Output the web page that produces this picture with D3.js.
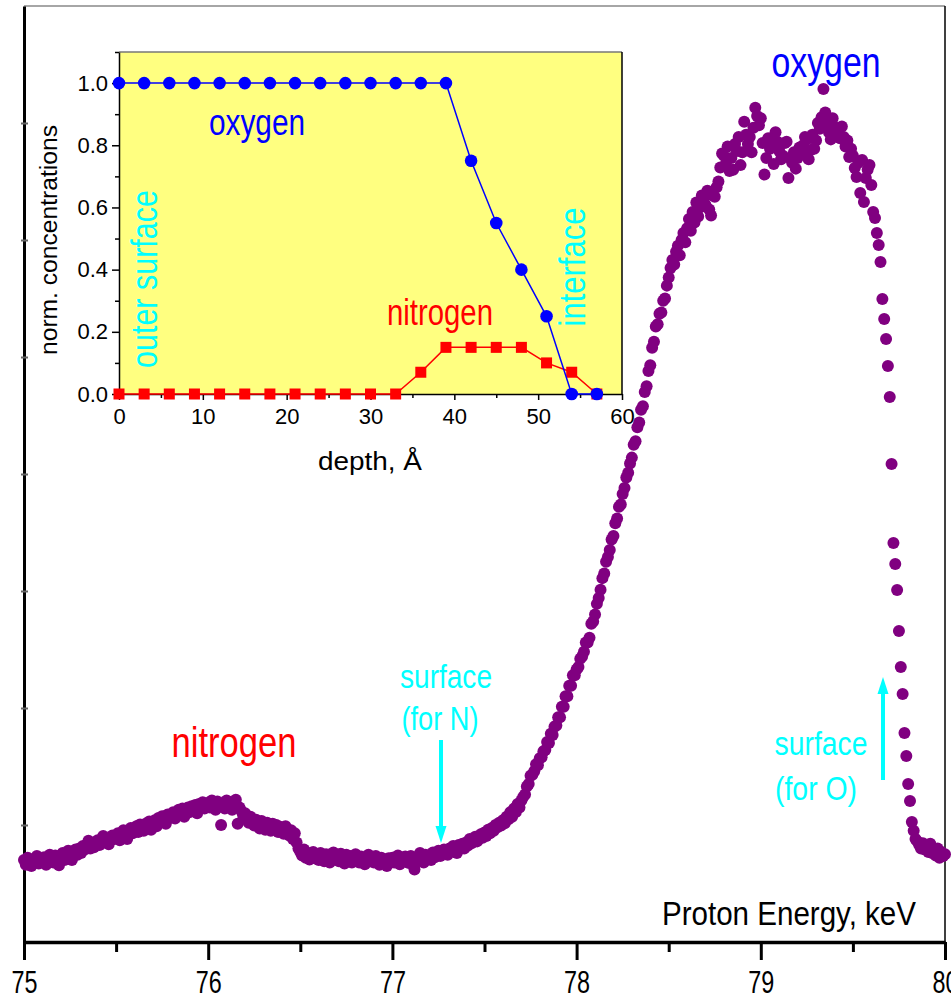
<!DOCTYPE html>
<html>
<head>
<meta charset="utf-8">
<script src="https://cdn.jsdelivr.net/npm/d3@7"></script>
<style>
	body { margin: 0; background: #fff; }
	svg text { font-family: "Liberation Sans", Arial, sans-serif; }
	svg text.narrow { font-family: "Liberation Sans Narrow", "Arial Narrow", "Liberation Sans", Arial, sans-serif; }
</style>
</head>
<body>
<svg id="chart" width="951" height="999"></svg>
<script>

// main spectrum: proton energy (keV) vs yield
var energy = [
	75.00,75.01,75.02,75.03,75.04,75.05,75.06,75.07,75.08,75.09,
	75.10,75.11,75.12,75.13,75.14,75.15,75.16,75.17,75.18,75.19,
	75.20,75.21,75.22,75.23,75.24,75.25,75.26,75.27,75.28,75.29,
	75.30,75.31,75.32,75.33,75.34,75.35,75.36,75.37,75.38,75.39,
	75.40,75.41,75.42,75.43,75.44,75.45,75.46,75.47,75.48,75.49,
	75.50,75.51,75.52,75.53,75.54,75.55,75.56,75.57,75.58,75.59,
	75.60,75.61,75.62,75.63,75.64,75.65,75.66,75.67,75.68,75.69,
	75.70,75.71,75.72,75.73,75.74,75.75,75.76,75.77,75.78,75.79,
	75.80,75.81,75.82,75.83,75.84,75.85,75.86,75.87,75.88,75.89,
	75.90,75.91,75.92,75.93,75.94,75.95,75.96,75.97,75.98,75.99,
	76.00,76.01,76.02,76.03,76.04,76.05,76.06,76.07,76.08,76.09,
	76.10,76.11,76.12,76.13,76.14,76.15,76.16,76.17,76.18,76.19,
	76.20,76.21,76.22,76.23,76.24,76.25,76.26,76.27,76.28,76.29,
	76.30,76.31,76.32,76.33,76.34,76.35,76.36,76.37,76.38,76.39,
	76.40,76.41,76.42,76.43,76.44,76.45,76.46,76.47,76.48,76.49,
	76.50,76.51,76.52,76.53,76.54,76.55,76.56,76.57,76.58,76.59,
	76.60,76.61,76.62,76.63,76.64,76.65,76.66,76.67,76.68,76.69,
	76.70,76.71,76.72,76.73,76.74,76.75,76.76,76.77,76.78,76.79,
	76.80,76.81,76.82,76.83,76.84,76.85,76.86,76.87,76.88,76.89,
	76.90,76.91,76.92,76.93,76.94,76.95,76.96,76.97,76.98,76.99,
	77.00,77.01,77.02,77.03,77.04,77.05,77.06,77.07,77.08,77.09,
	77.10,77.11,77.12,77.13,77.14,77.15,77.16,77.17,77.18,77.19,
	77.20,77.21,77.22,77.23,77.24,77.25,77.26,77.27,77.28,77.29,
	77.30,77.31,77.32,77.33,77.34,77.35,77.36,77.37,77.38,77.39,
	77.40,77.41,77.42,77.43,77.44,77.45,77.46,77.47,77.48,77.49,
	77.50,77.51,77.52,77.53,77.54,77.55,77.56,77.57,77.58,77.59,
	77.60,77.61,77.62,77.63,77.64,77.65,77.66,77.67,77.68,77.69,
	77.70,77.71,77.72,77.73,77.74,77.75,77.76,77.77,77.78,77.79,
	77.80,77.81,77.82,77.83,77.84,77.85,77.86,77.87,77.88,77.89,
	77.90,77.91,77.92,77.93,77.94,77.95,77.96,77.97,77.98,77.99,
	78.00,78.01,78.02,78.03,78.04,78.05,78.06,78.07,78.08,78.09,
	78.10,78.11,78.12,78.13,78.14,78.15,78.16,78.17,78.18,78.19,
	78.20,78.21,78.22,78.23,78.24,78.25,78.26,78.27,78.28,78.29,
	78.30,78.31,78.32,78.33,78.34,78.35,78.36,78.37,78.38,78.39,
	78.40,78.41,78.42,78.43,78.44,78.45,78.46,78.47,78.48,78.49,
	78.50,78.51,78.52,78.53,78.54,78.55,78.56,78.57,78.58,78.59,
	78.60,78.61,78.62,78.63,78.64,78.65,78.66,78.67,78.68,78.69,
	78.70,78.71,78.72,78.73,78.74,78.75,78.76,78.77,78.78,78.79,
	78.80,78.81,78.82,78.83,78.84,78.85,78.86,78.87,78.88,78.89,
	78.90,78.91,78.92,78.93,78.94,78.95,78.96,78.97,78.98,78.99,
	79.00,79.01,79.02,79.03,79.04,79.05,79.06,79.07,79.08,79.09,
	79.10,79.11,79.12,79.13,79.14,79.15,79.16,79.17,79.18,79.19,
	79.20,79.21,79.22,79.23,79.24,79.25,79.26,79.27,79.28,79.29,
	79.30,79.31,79.32,79.33,79.34,79.35,79.36,79.37,79.38,79.39,
	79.40,79.41,79.42,79.43,79.44,79.45,79.46,79.47,79.48,79.49,
	79.50,79.51,79.52,79.53,79.54,79.55,79.56,79.57,79.58,79.59,
	79.60,79.61,79.62,79.63,79.64,79.65,79.66,79.67,79.68,79.69,
	79.70,79.71,79.72,79.73,79.74,79.75,79.76,79.77,79.78,79.79,
	79.80,79.81,79.82,79.83,79.84,79.85,79.86,79.87,79.88,79.89,
	79.90,79.91,79.92,79.93,79.94,79.95,79.96,79.97,79.98,79.99,
	80.00
]

var counts = [
	700,660,720,690,650,705,680,735,670,700,
	690,725,660,710,745,700,680,740,715,655,
	730,760,700,745,780,735,700,770,790,745,
	800,760,820,790,830,865,800,840,810,855,
	870,830,860,905,850,880,835,870,910,880,
	895,930,870,900,955,920,880,945,975,930,
	960,990,940,1005,970,950,1010,985,1030,960,
	1000,1040,990,1060,1025,1075,1040,1010,1090,1060,
	1080,1110,1055,1100,1130,1090,1140,1070,1120,1150,
	1110,1160,1130,1170,1100,1180,1150,1195,1140,1170,
	1190,1150,1210,1170,1130,1200,1165,1000,1185,1140,
	1210,1160,1195,1130,1170,1215,1010,1150,1120,1080,
	1100,1060,1020,1070,1030,995,1045,1010,970,1035,
	1000,960,1020,985,950,1010,970,1000,940,985,
	960,925,990,945,910,955,880,930,850,800,
	770,740,790,720,760,705,745,770,715,740,
	700,760,725,690,750,715,680,740,765,705,
	730,690,755,720,670,745,710,735,680,720,
	750,705,680,730,700,665,725,745,690,715,
	680,735,700,660,720,690,705,650,715,690,
	720,680,700,740,665,710,690,730,700,675,
	735,700,620,725,690,760,715,680,745,710,
	740,700,765,725,750,780,735,760,790,770,
	745,800,775,820,790,760,830,810,840,800,
	850,825,880,845,870,900,860,885,920,890,
	935,905,960,930,975,950,1000,980,1020,995,
	1040,1015,1070,1050,1110,1070,1140,1110,1180,1150,
	1210,1240,1260,1330,1350,1420,1430,1460,1520,1510,
	1570,1580,1630,1640,1710,1700,1780,1770,1840,1850,
	1920,1920,2010,2010,2100,2100,2190,2190,2280,2280,
	2330,2350,2420,2440,2480,2560,2560,2600,2720,2740,
	2800,2890,2940,3010,3110,3150,3250,3290,3350,3440,
	3470,3580,3620,3720,3740,3830,3880,3970,4010,4090,
	4140,4250,4280,4400,4440,4550,4580,4700,4750,4880,
	4930,5080,5130,5260,5280,5370,5380,5480,5500,5610,
	5680,5760,5830,5790,5900,5950,5870,6000,6060,5980,
	6100,6180,6080,6240,6150,6320,6200,6280,6380,6350,
	6300,6420,6260,6210,6380,6370,6450,6500,6620,6740,
	6720,6650,6800,6590,6700,6600,6820,6760,6880,6640,
	6750,7010,6900,6820,6880,6750,6960,7130,7060,6980,
	7040,6830,6560,6700,6870,6780,6800,6650,6920,6840,
	6760,6690,6720,6830,6840,6530,6700,6660,6750,6610,
	6700,6790,6740,6810,6880,6860,6690,6770,6900,6780,
	6850,7000,6950,7050,7290,7090,6990,6920,6860,7040,
	6930,6960,6890,6870,6970,6880,6800,6850,6710,6780,
	6720,6615,6538,6660,6402,6684,6325,6530,6600,6641,
	6470,6239,6188,6060,5957,5812,5496,5325,5154,4923,
	4658,4085,3410,3231,3009,2658,2350,2120,1786,1590,
	1350,1205,1026,950,880,860,830,800,845,790,
	820,770,840,760,790,740,800,720,770,735,
	750
]

var energyTicks = [75, 76, 77, 78, 79, 80]
var energyMinorTicks = [75.5, 76.5, 77.5, 78.5, 79.5]
var countTicks = [1000, 2000, 3000, 4000, 5000, 6000, 7000]

// inset: depth profiles
var depth = [0, 3, 6, 9, 12, 15, 18, 21, 24, 27, 30, 33, 36, 39, 42, 45, 48, 51, 54, 57]
var oxygenConc = [1, 1, 1, 1, 1, 1, 1, 1, 1, 1, 1, 1, 1, 1, 0.75, 0.55, 0.40, 0.25, 0, 0]
var nitrogenConc = [0, 0, 0, 0, 0, 0, 0, 0, 0, 0, 0, 0, 0.07, 0.15, 0.15, 0.15, 0.15, 0.10, 0.07, 0]
var depthTicks = [0, 10, 20, 30, 40, 50, 60]
var depthMinorTicks = [5, 15, 25, 35, 45, 55]
var concTicks = [0, 0.2, 0.4, 0.6, 0.8, 1.0]
var concMinorTicks = [0.1, 0.3, 0.5, 0.7, 0.9, 1.1]

var svg = d3.select("#chart")

function addText(txt, x, y, size, color, len, rotate, narrow) {
	var t = svg.append("text")
		.attr("x", x)
		.attr("y", y)
		.attr("font-size", size + "px")
		.attr("fill", color)
		.attr("text-anchor", "middle")
		.text(txt)
	if (narrow) t.attr("class", "narrow")
	if (len) t.attr("textLength", len).attr("lengthAdjust", "spacingAndGlyphs")
	if (rotate) t.attr("transform", "rotate(-90," + x + "," + y + ")")
	return t
}

// ---- main plot ----
var x = d3.scaleLinear().domain([75, 80]).range([24, 945])
var y = d3.scaleLinear().domain([0, 8000]).range([942, 6])

// frame: grey top, thin right
svg.append("line").attr("x1", 24).attr("x2", 945).attr("y1", 6).attr("y2", 6)
	.attr("stroke", "#888").attr("stroke-width", 1.5)
svg.append("line").attr("x1", 945).attr("x2", 945).attr("y1", 6).attr("y2", 942)
	.attr("stroke", "#000").attr("stroke-width", 1.5)

// left axis (no labels)
svg.append("g")
	.attr("transform", "translate(24,0)")
	.call(d3.axisLeft(y).tickValues(countTicks).tickSize(3).tickSizeOuter(0).tickFormat(""))
	.call(g => g.select(".domain").attr("stroke-width", 3))
	.call(g => g.selectAll(".tick line").attr("stroke", "#666").attr("stroke-width", 2).attr("x2", 4).attr("x1", -3))

// the spectrum
svg.append("g")
	.selectAll("circle")
	.data(counts)
	.join("circle")
	.attr("cx", function(d, i) { return x(energy[i]) })
	.attr("cy", function(d) { return y(d) })
	.attr("r", 6)
	.attr("fill", "#800080")

// bottom axis
svg.append("g")
	.attr("transform", "translate(0,942)")
	.call(d3.axisBottom(x).tickValues(energyMinorTicks).tickSize(10).tickSizeOuter(0).tickFormat(""))
	.call(g => g.select(".domain").remove())
	.call(g => g.selectAll(".tick line").attr("stroke-width", 3))

svg.append("g")
	.attr("transform", "translate(0,942)")
	.call(d3.axisBottom(x).tickValues(energyTicks).tickSize(18).tickSizeOuter(0).tickPadding(10).tickFormat(d3.format("d")))
	.call(g => g.select(".domain").attr("stroke-width", 3.5))
	.call(g => g.selectAll(".tick line").attr("stroke-width", 3))
	.call(g => g.selectAll(".tick text")
		.attr("class", "narrow")
		.attr("font-size", "32px")
		.attr("fill", "#000")
		.attr("textLength", 26)
		.attr("lengthAdjust", "spacingAndGlyphs"))

addText("Proton Energy, keV", 789, 925, 34, "#000", 254, false, true)

// main labels
addText("oxygen", 826, 77, 42, "#0000ff", 109, false, true)
addText("nitrogen", 234, 757, 42, "#ff0000", 125, false, true)

addText("surface", 446, 688, 33, "#00ffff", 92, false, true)
addText("(for N)", 440, 730, 33, "#00ffff", 77, false, true)
addText("surface", 821, 755, 33, "#00ffff", 93, false, true)
addText("(for O)", 816, 800, 33, "#00ffff", 82, false, true)

// arrows
svg.append("line").attr("x1", 441).attr("x2", 441).attr("y1", 740).attr("y2", 830)
	.attr("stroke", "#00ffff").attr("stroke-width", 4)
svg.append("path").attr("d", "M435.5,826 L446.5,826 L441,843 Z").attr("fill", "#00ffff")
svg.append("line").attr("x1", 883).attr("x2", 883).attr("y1", 780).attr("y2", 690)
	.attr("stroke", "#00ffff").attr("stroke-width", 4)
svg.append("path").attr("d", "M877.5,694 L888.5,694 L883,677 Z").attr("fill", "#00ffff")

// ---- inset ----
var ix = d3.scaleLinear().domain([0, 60]).range([119, 622])
var iy = d3.scaleLinear().domain([0, 1.1]).range([394, 52])

svg.append("rect")
	.attr("x", ix(0)).attr("y", iy(1.1))
	.attr("width", ix(60) - ix(0)).attr("height", iy(0) - iy(1.1))
	.attr("fill", "#ffff80")
svg.append("line").attr("x1", ix(0)).attr("x2", ix(60)).attr("y1", iy(1.1)).attr("y2", iy(1.1))
	.attr("stroke", "#777").attr("stroke-width", 1.5)
svg.append("line").attr("x1", ix(60)).attr("x2", ix(60)).attr("y1", iy(1.1)).attr("y2", iy(0))
	.attr("stroke", "#000").attr("stroke-width", 1.5)

svg.append("g")
	.attr("transform", "translate(119,0)")
	.call(d3.axisLeft(iy).tickValues(concMinorTicks).tickSize(4).tickSizeOuter(0).tickFormat(""))
	.call(g => g.select(".domain").remove())
	.call(g => g.selectAll(".tick line").attr("stroke-width", 1.5))
svg.append("g")
	.attr("transform", "translate(119,0)")
	.call(d3.axisLeft(iy).tickValues(concTicks).tickSize(7).tickSizeOuter(0).tickPadding(4).tickFormat(d3.format(".1f")))
	.call(g => g.select(".domain").attr("stroke-width", 1.5))
	.call(g => g.selectAll(".tick line").attr("stroke-width", 1.5))
	.call(g => g.selectAll(".tick text").attr("font-size", "22px").attr("fill", "#000"))

svg.append("g")
	.attr("transform", "translate(0,394)")
	.call(d3.axisBottom(ix).tickValues(depthMinorTicks).tickSize(4).tickSizeOuter(0).tickFormat(""))
	.call(g => g.select(".domain").remove())
	.call(g => g.selectAll(".tick line").attr("stroke-width", 1.5))
svg.append("g")
	.attr("transform", "translate(0,394)")
	.call(d3.axisBottom(ix).tickValues(depthTicks).tickSize(6).tickSizeOuter(0).tickPadding(8).tickFormat(d3.format("d")))
	.call(g => g.select(".domain").attr("stroke-width", 1.5))
	.call(g => g.selectAll(".tick line").attr("stroke-width", 1.5))
	.call(g => g.selectAll(".tick text").attr("font-size", "22px").attr("fill", "#000"))

addText("depth, Å", 370, 470, 25, "#000", 104, false, false)
addText("norm. concentrations", 57, 240, 23, "#000", 230, true, false)

// nitrogen profile (drawn first, oxygen sits on top)
var line = d3.line()
	.x(function(d) { return ix(d[0]) })
	.y(function(d) { return iy(d[1]) })

svg.append("path")
	.datum(depth.map(function(d, i) { return [d, nitrogenConc[i]] }))
	.attr("d", line).attr("fill", "none").attr("stroke", "#ff0000").attr("stroke-width", 1.5)
svg.append("g").selectAll("rect")
	.data(nitrogenConc)
	.join("rect")
	.attr("x", function(d, i) { return ix(depth[i]) - 5.5 })
	.attr("y", function(d) { return iy(d) - 5.5 })
	.attr("width", 11).attr("height", 11)
	.attr("fill", "#ff0000")

svg.append("path")
	.datum(depth.map(function(d, i) { return [d, oxygenConc[i]] }))
	.attr("d", line).attr("fill", "none").attr("stroke", "#0000ff").attr("stroke-width", 1.5)
svg.append("g").selectAll("circle")
	.data(oxygenConc)
	.join("circle")
	.attr("cx", function(d, i) { return ix(depth[i]) })
	.attr("cy", function(d) { return iy(d) })
	.attr("r", 6.3)
	.attr("fill", "#0000ff")

// inset labels
addText("oxygen", 257, 135, 36, "#0000ff", 96, false, true)
addText("nitrogen", 440, 325, 36, "#ff0000", 106, false, true)
addText("outer surface", 157, 279, 36, "#00ffff", 178, true, true)
addText("interface", 585, 267, 36, "#00ffff", 119, true, true)

</script>
</body>
</html>
